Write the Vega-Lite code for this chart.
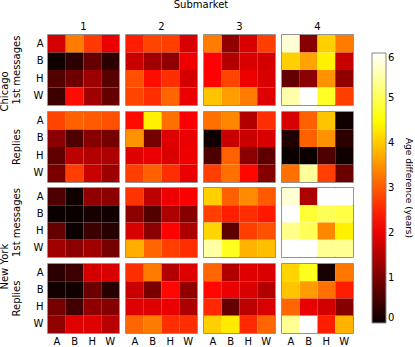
{
"$schema":"https://vega.github.io/schema/vega-lite/v6.json",
"padding":{"left":0,"top":0,"right":0,"bottom":0},
"data":{"values":[
{"city":"Chicago","msg":"1st messages","sub":1,"row":"A","col":"A","v":1.8},{"city":"Chicago","msg":"1st messages","sub":1,"row":"A","col":"B","v":3.3},{"city":"Chicago","msg":"1st messages","sub":1,"row":"A","col":"H","v":2.7},{"city":"Chicago","msg":"1st messages","sub":1,"row":"A","col":"W","v":2.0},
{"city":"Chicago","msg":"1st messages","sub":1,"row":"B","col":"A","v":0.05},{"city":"Chicago","msg":"1st messages","sub":1,"row":"B","col":"B","v":0.3},{"city":"Chicago","msg":"1st messages","sub":1,"row":"B","col":"H","v":0.8},{"city":"Chicago","msg":"1st messages","sub":1,"row":"B","col":"W","v":0.3},
{"city":"Chicago","msg":"1st messages","sub":1,"row":"H","col":"A","v":0.65},{"city":"Chicago","msg":"1st messages","sub":1,"row":"H","col":"B","v":0.9},{"city":"Chicago","msg":"1st messages","sub":1,"row":"H","col":"H","v":1.3},{"city":"Chicago","msg":"1st messages","sub":1,"row":"H","col":"W","v":0.7},
{"city":"Chicago","msg":"1st messages","sub":1,"row":"W","col":"A","v":0.45},{"city":"Chicago","msg":"1st messages","sub":1,"row":"W","col":"B","v":2.3},{"city":"Chicago","msg":"1st messages","sub":1,"row":"W","col":"H","v":1.35},{"city":"Chicago","msg":"1st messages","sub":1,"row":"W","col":"W","v":0.8},
{"city":"Chicago","msg":"1st messages","sub":2,"row":"A","col":"A","v":2.45},{"city":"Chicago","msg":"1st messages","sub":2,"row":"A","col":"B","v":2.8},{"city":"Chicago","msg":"1st messages","sub":2,"row":"A","col":"H","v":2.75},{"city":"Chicago","msg":"1st messages","sub":2,"row":"A","col":"W","v":1.85},
{"city":"Chicago","msg":"1st messages","sub":2,"row":"B","col":"A","v":1.7},{"city":"Chicago","msg":"1st messages","sub":2,"row":"B","col":"B","v":1.35},{"city":"Chicago","msg":"1st messages","sub":2,"row":"B","col":"H","v":1.2},{"city":"Chicago","msg":"1st messages","sub":2,"row":"B","col":"W","v":2.05},
{"city":"Chicago","msg":"1st messages","sub":2,"row":"H","col":"A","v":2.9},{"city":"Chicago","msg":"1st messages","sub":2,"row":"H","col":"B","v":2.3},{"city":"Chicago","msg":"1st messages","sub":2,"row":"H","col":"H","v":2.6},{"city":"Chicago","msg":"1st messages","sub":2,"row":"H","col":"W","v":1.8},
{"city":"Chicago","msg":"1st messages","sub":2,"row":"W","col":"A","v":2.8},{"city":"Chicago","msg":"1st messages","sub":2,"row":"W","col":"B","v":2.6},{"city":"Chicago","msg":"1st messages","sub":2,"row":"W","col":"H","v":3.1},{"city":"Chicago","msg":"1st messages","sub":2,"row":"W","col":"W","v":2.0},
{"city":"Chicago","msg":"1st messages","sub":3,"row":"A","col":"A","v":3.3},{"city":"Chicago","msg":"1st messages","sub":3,"row":"A","col":"B","v":1.2},{"city":"Chicago","msg":"1st messages","sub":3,"row":"A","col":"H","v":1.85},{"city":"Chicago","msg":"1st messages","sub":3,"row":"A","col":"W","v":2.75},
{"city":"Chicago","msg":"1st messages","sub":3,"row":"B","col":"A","v":2.2},{"city":"Chicago","msg":"1st messages","sub":3,"row":"B","col":"B","v":1.5},{"city":"Chicago","msg":"1st messages","sub":3,"row":"B","col":"H","v":1.85},{"city":"Chicago","msg":"1st messages","sub":3,"row":"B","col":"W","v":1.8},
{"city":"Chicago","msg":"1st messages","sub":3,"row":"H","col":"A","v":2.2},{"city":"Chicago","msg":"1st messages","sub":3,"row":"H","col":"B","v":2.8},{"city":"Chicago","msg":"1st messages","sub":3,"row":"H","col":"H","v":2.05},{"city":"Chicago","msg":"1st messages","sub":3,"row":"H","col":"W","v":1.85},
{"city":"Chicago","msg":"1st messages","sub":3,"row":"W","col":"A","v":3.95},{"city":"Chicago","msg":"1st messages","sub":3,"row":"W","col":"B","v":3.6},{"city":"Chicago","msg":"1st messages","sub":3,"row":"W","col":"H","v":3.3},{"city":"Chicago","msg":"1st messages","sub":3,"row":"W","col":"W","v":1.9},
{"city":"Chicago","msg":"1st messages","sub":4,"row":"A","col":"A","v":5.75},{"city":"Chicago","msg":"1st messages","sub":4,"row":"A","col":"B","v":1.1},{"city":"Chicago","msg":"1st messages","sub":4,"row":"A","col":"H","v":4.05},{"city":"Chicago","msg":"1st messages","sub":4,"row":"A","col":"W","v":3.3},
{"city":"Chicago","msg":"1st messages","sub":4,"row":"B","col":"A","v":4.05},{"city":"Chicago","msg":"1st messages","sub":4,"row":"B","col":"B","v":3.65},{"city":"Chicago","msg":"1st messages","sub":4,"row":"B","col":"H","v":4.35},{"city":"Chicago","msg":"1st messages","sub":4,"row":"B","col":"W","v":1.7},
{"city":"Chicago","msg":"1st messages","sub":4,"row":"H","col":"A","v":0.8},{"city":"Chicago","msg":"1st messages","sub":4,"row":"H","col":"B","v":1.15},{"city":"Chicago","msg":"1st messages","sub":4,"row":"H","col":"H","v":3.5},{"city":"Chicago","msg":"1st messages","sub":4,"row":"H","col":"W","v":1.2},
{"city":"Chicago","msg":"1st messages","sub":4,"row":"W","col":"A","v":5.5},{"city":"Chicago","msg":"1st messages","sub":4,"row":"W","col":"B","v":6.0},{"city":"Chicago","msg":"1st messages","sub":4,"row":"W","col":"H","v":4.7},{"city":"Chicago","msg":"1st messages","sub":4,"row":"W","col":"W","v":2.75},
{"city":"Chicago","msg":"Replies","sub":1,"row":"A","col":"A","v":2.8},{"city":"Chicago","msg":"Replies","sub":1,"row":"A","col":"B","v":3.05},{"city":"Chicago","msg":"Replies","sub":1,"row":"A","col":"H","v":3.0},{"city":"Chicago","msg":"Replies","sub":1,"row":"A","col":"W","v":2.9},
{"city":"Chicago","msg":"Replies","sub":1,"row":"B","col":"A","v":1.15},{"city":"Chicago","msg":"Replies","sub":1,"row":"B","col":"B","v":0.6},{"city":"Chicago","msg":"Replies","sub":1,"row":"B","col":"H","v":1.1},{"city":"Chicago","msg":"Replies","sub":1,"row":"B","col":"W","v":0.95},
{"city":"Chicago","msg":"Replies","sub":1,"row":"H","col":"A","v":0.75},{"city":"Chicago","msg":"Replies","sub":1,"row":"H","col":"B","v":1.6},{"city":"Chicago","msg":"Replies","sub":1,"row":"H","col":"H","v":1.5},{"city":"Chicago","msg":"Replies","sub":1,"row":"H","col":"W","v":1.45},
{"city":"Chicago","msg":"Replies","sub":1,"row":"W","col":"A","v":1.0},{"city":"Chicago","msg":"Replies","sub":1,"row":"W","col":"B","v":2.75},{"city":"Chicago","msg":"Replies","sub":1,"row":"W","col":"H","v":1.7},{"city":"Chicago","msg":"Replies","sub":1,"row":"W","col":"W","v":1.3},
{"city":"Chicago","msg":"Replies","sub":2,"row":"A","col":"A","v":2.3},{"city":"Chicago","msg":"Replies","sub":2,"row":"A","col":"B","v":4.35},{"city":"Chicago","msg":"Replies","sub":2,"row":"A","col":"H","v":3.2},{"city":"Chicago","msg":"Replies","sub":2,"row":"A","col":"W","v":2.15},
{"city":"Chicago","msg":"Replies","sub":2,"row":"B","col":"A","v":3.5},{"city":"Chicago","msg":"Replies","sub":2,"row":"B","col":"B","v":0.95},{"city":"Chicago","msg":"Replies","sub":2,"row":"B","col":"H","v":1.9},{"city":"Chicago","msg":"Replies","sub":2,"row":"B","col":"W","v":2.0},
{"city":"Chicago","msg":"Replies","sub":2,"row":"H","col":"A","v":1.9},{"city":"Chicago","msg":"Replies","sub":2,"row":"H","col":"B","v":2.0},{"city":"Chicago","msg":"Replies","sub":2,"row":"H","col":"H","v":1.85},{"city":"Chicago","msg":"Replies","sub":2,"row":"H","col":"W","v":2.05},
{"city":"Chicago","msg":"Replies","sub":2,"row":"W","col":"A","v":2.75},{"city":"Chicago","msg":"Replies","sub":2,"row":"W","col":"B","v":3.05},{"city":"Chicago","msg":"Replies","sub":2,"row":"W","col":"H","v":2.6},{"city":"Chicago","msg":"Replies","sub":2,"row":"W","col":"W","v":2.0},
{"city":"Chicago","msg":"Replies","sub":3,"row":"A","col":"A","v":3.2},{"city":"Chicago","msg":"Replies","sub":3,"row":"A","col":"B","v":3.4},{"city":"Chicago","msg":"Replies","sub":3,"row":"A","col":"H","v":1.5},{"city":"Chicago","msg":"Replies","sub":3,"row":"A","col":"W","v":2.6},
{"city":"Chicago","msg":"Replies","sub":3,"row":"B","col":"A","v":0.05},{"city":"Chicago","msg":"Replies","sub":3,"row":"B","col":"B","v":1.7},{"city":"Chicago","msg":"Replies","sub":3,"row":"B","col":"H","v":1.7},{"city":"Chicago","msg":"Replies","sub":3,"row":"B","col":"W","v":1.85},
{"city":"Chicago","msg":"Replies","sub":3,"row":"H","col":"A","v":0.6},{"city":"Chicago","msg":"Replies","sub":3,"row":"H","col":"B","v":3.05},{"city":"Chicago","msg":"Replies","sub":3,"row":"H","col":"H","v":1.15},{"city":"Chicago","msg":"Replies","sub":3,"row":"H","col":"W","v":0.75},
{"city":"Chicago","msg":"Replies","sub":3,"row":"W","col":"A","v":2.75},{"city":"Chicago","msg":"Replies","sub":3,"row":"W","col":"B","v":3.2},{"city":"Chicago","msg":"Replies","sub":3,"row":"W","col":"H","v":2.25},{"city":"Chicago","msg":"Replies","sub":3,"row":"W","col":"W","v":1.1},
{"city":"Chicago","msg":"Replies","sub":4,"row":"A","col":"A","v":1.85},{"city":"Chicago","msg":"Replies","sub":4,"row":"A","col":"B","v":3.05},{"city":"Chicago","msg":"Replies","sub":4,"row":"A","col":"H","v":3.95},{"city":"Chicago","msg":"Replies","sub":4,"row":"A","col":"W","v":0.05},
{"city":"Chicago","msg":"Replies","sub":4,"row":"B","col":"A","v":0.2},{"city":"Chicago","msg":"Replies","sub":4,"row":"B","col":"B","v":3.05},{"city":"Chicago","msg":"Replies","sub":4,"row":"B","col":"H","v":3.5},{"city":"Chicago","msg":"Replies","sub":4,"row":"B","col":"W","v":0.3},
{"city":"Chicago","msg":"Replies","sub":4,"row":"H","col":"A","v":0.0},{"city":"Chicago","msg":"Replies","sub":4,"row":"H","col":"B","v":0.0},{"city":"Chicago","msg":"Replies","sub":4,"row":"H","col":"H","v":0.6},{"city":"Chicago","msg":"Replies","sub":4,"row":"H","col":"W","v":0.05},
{"city":"Chicago","msg":"Replies","sub":4,"row":"W","col":"A","v":3.2},{"city":"Chicago","msg":"Replies","sub":4,"row":"W","col":"B","v":5.4},{"city":"Chicago","msg":"Replies","sub":4,"row":"W","col":"H","v":2.75},{"city":"Chicago","msg":"Replies","sub":4,"row":"W","col":"W","v":0.85},
{"city":"New York","msg":"1st messages","sub":1,"row":"A","col":"A","v":0.6},{"city":"New York","msg":"1st messages","sub":1,"row":"A","col":"B","v":0.05},{"city":"New York","msg":"1st messages","sub":1,"row":"A","col":"H","v":1.2},{"city":"New York","msg":"1st messages","sub":1,"row":"A","col":"W","v":1.15},
{"city":"New York","msg":"1st messages","sub":1,"row":"B","col":"A","v":0.0},{"city":"New York","msg":"1st messages","sub":1,"row":"B","col":"B","v":0.0},{"city":"New York","msg":"1st messages","sub":1,"row":"B","col":"H","v":0.1},{"city":"New York","msg":"1st messages","sub":1,"row":"B","col":"W","v":0.05},
{"city":"New York","msg":"1st messages","sub":1,"row":"H","col":"A","v":0.8},{"city":"New York","msg":"1st messages","sub":1,"row":"H","col":"B","v":0.02},{"city":"New York","msg":"1st messages","sub":1,"row":"H","col":"H","v":0.45},{"city":"New York","msg":"1st messages","sub":1,"row":"H","col":"W","v":0.25},
{"city":"New York","msg":"1st messages","sub":1,"row":"W","col":"A","v":1.35},{"city":"New York","msg":"1st messages","sub":1,"row":"W","col":"B","v":1.15},{"city":"New York","msg":"1st messages","sub":1,"row":"W","col":"H","v":1.35},{"city":"New York","msg":"1st messages","sub":1,"row":"W","col":"W","v":0.95},
{"city":"New York","msg":"1st messages","sub":2,"row":"A","col":"A","v":2.65},{"city":"New York","msg":"1st messages","sub":2,"row":"A","col":"B","v":1.6},{"city":"New York","msg":"1st messages","sub":2,"row":"A","col":"H","v":2.05},{"city":"New York","msg":"1st messages","sub":2,"row":"A","col":"W","v":2.15},
{"city":"New York","msg":"1st messages","sub":2,"row":"B","col":"A","v":1.15},{"city":"New York","msg":"1st messages","sub":2,"row":"B","col":"B","v":0.65},{"city":"New York","msg":"1st messages","sub":2,"row":"B","col":"H","v":1.45},{"city":"New York","msg":"1st messages","sub":2,"row":"B","col":"W","v":1.1},
{"city":"New York","msg":"1st messages","sub":2,"row":"H","col":"A","v":1.85},{"city":"New York","msg":"1st messages","sub":2,"row":"H","col":"B","v":1.15},{"city":"New York","msg":"1st messages","sub":2,"row":"H","col":"H","v":2.2},{"city":"New York","msg":"1st messages","sub":2,"row":"H","col":"W","v":1.45},
{"city":"New York","msg":"1st messages","sub":2,"row":"W","col":"A","v":3.75},{"city":"New York","msg":"1st messages","sub":2,"row":"W","col":"B","v":3.1},{"city":"New York","msg":"1st messages","sub":2,"row":"W","col":"H","v":2.75},{"city":"New York","msg":"1st messages","sub":2,"row":"W","col":"W","v":2.6},
{"city":"New York","msg":"1st messages","sub":3,"row":"A","col":"A","v":4.05},{"city":"New York","msg":"1st messages","sub":3,"row":"A","col":"B","v":3.05},{"city":"New York","msg":"1st messages","sub":3,"row":"A","col":"H","v":3.45},{"city":"New York","msg":"1st messages","sub":3,"row":"A","col":"W","v":3.0},
{"city":"New York","msg":"1st messages","sub":3,"row":"B","col":"A","v":2.75},{"city":"New York","msg":"1st messages","sub":3,"row":"B","col":"B","v":2.45},{"city":"New York","msg":"1st messages","sub":3,"row":"B","col":"H","v":2.6},{"city":"New York","msg":"1st messages","sub":3,"row":"B","col":"W","v":2.4},
{"city":"New York","msg":"1st messages","sub":3,"row":"H","col":"A","v":4.1},{"city":"New York","msg":"1st messages","sub":3,"row":"H","col":"B","v":0.75},{"city":"New York","msg":"1st messages","sub":3,"row":"H","col":"H","v":2.75},{"city":"New York","msg":"1st messages","sub":3,"row":"H","col":"W","v":2.9},
{"city":"New York","msg":"1st messages","sub":3,"row":"W","col":"A","v":5.45},{"city":"New York","msg":"1st messages","sub":3,"row":"W","col":"B","v":4.65},{"city":"New York","msg":"1st messages","sub":3,"row":"W","col":"H","v":3.8},{"city":"New York","msg":"1st messages","sub":3,"row":"W","col":"W","v":3.9},
{"city":"New York","msg":"1st messages","sub":4,"row":"A","col":"A","v":5.75},{"city":"New York","msg":"1st messages","sub":4,"row":"A","col":"B","v":1.45},{"city":"New York","msg":"1st messages","sub":4,"row":"A","col":"H","v":6.0},{"city":"New York","msg":"1st messages","sub":4,"row":"A","col":"W","v":6.0},
{"city":"New York","msg":"1st messages","sub":4,"row":"B","col":"A","v":6.0},{"city":"New York","msg":"1st messages","sub":4,"row":"B","col":"B","v":4.8},{"city":"New York","msg":"1st messages","sub":4,"row":"B","col":"H","v":5.0},{"city":"New York","msg":"1st messages","sub":4,"row":"B","col":"W","v":4.9},
{"city":"New York","msg":"1st messages","sub":4,"row":"H","col":"A","v":5.3},{"city":"New York","msg":"1st messages","sub":4,"row":"H","col":"B","v":5.0},{"city":"New York","msg":"1st messages","sub":4,"row":"H","col":"H","v":3.4},{"city":"New York","msg":"1st messages","sub":4,"row":"H","col":"W","v":4.35},
{"city":"New York","msg":"1st messages","sub":4,"row":"W","col":"A","v":6.0},{"city":"New York","msg":"1st messages","sub":4,"row":"W","col":"B","v":6.0},{"city":"New York","msg":"1st messages","sub":4,"row":"W","col":"H","v":5.35},{"city":"New York","msg":"1st messages","sub":4,"row":"W","col":"W","v":5.35},
{"city":"New York","msg":"Replies","sub":1,"row":"A","col":"A","v":0.3},{"city":"New York","msg":"Replies","sub":1,"row":"A","col":"B","v":0.45},{"city":"New York","msg":"Replies","sub":1,"row":"A","col":"H","v":1.8},{"city":"New York","msg":"Replies","sub":1,"row":"A","col":"W","v":1.85},
{"city":"New York","msg":"Replies","sub":1,"row":"B","col":"A","v":0.05},{"city":"New York","msg":"Replies","sub":1,"row":"B","col":"B","v":0.05},{"city":"New York","msg":"Replies","sub":1,"row":"B","col":"H","v":0.85},{"city":"New York","msg":"Replies","sub":1,"row":"B","col":"W","v":0.25},
{"city":"New York","msg":"Replies","sub":1,"row":"H","col":"A","v":0.95},{"city":"New York","msg":"Replies","sub":1,"row":"H","col":"B","v":0.5},{"city":"New York","msg":"Replies","sub":1,"row":"H","col":"H","v":1.2},{"city":"New York","msg":"Replies","sub":1,"row":"H","col":"W","v":1.1},
{"city":"New York","msg":"Replies","sub":1,"row":"W","col":"A","v":1.2},{"city":"New York","msg":"Replies","sub":1,"row":"W","col":"B","v":1.9},{"city":"New York","msg":"Replies","sub":1,"row":"W","col":"H","v":1.9},{"city":"New York","msg":"Replies","sub":1,"row":"W","col":"W","v":1.55},
{"city":"New York","msg":"Replies","sub":2,"row":"A","col":"A","v":2.6},{"city":"New York","msg":"Replies","sub":2,"row":"A","col":"B","v":3.3},{"city":"New York","msg":"Replies","sub":2,"row":"A","col":"H","v":1.5},{"city":"New York","msg":"Replies","sub":2,"row":"A","col":"W","v":1.9},
{"city":"New York","msg":"Replies","sub":2,"row":"B","col":"A","v":1.7},{"city":"New York","msg":"Replies","sub":2,"row":"B","col":"B","v":1.0},{"city":"New York","msg":"Replies","sub":2,"row":"B","col":"H","v":2.25},{"city":"New York","msg":"Replies","sub":2,"row":"B","col":"W","v":1.2},
{"city":"New York","msg":"Replies","sub":2,"row":"H","col":"A","v":1.9},{"city":"New York","msg":"Replies","sub":2,"row":"H","col":"B","v":1.9},{"city":"New York","msg":"Replies","sub":2,"row":"H","col":"H","v":2.0},{"city":"New York","msg":"Replies","sub":2,"row":"H","col":"W","v":1.45},
{"city":"New York","msg":"Replies","sub":2,"row":"W","col":"A","v":3.1},{"city":"New York","msg":"Replies","sub":2,"row":"W","col":"B","v":3.3},{"city":"New York","msg":"Replies","sub":2,"row":"W","col":"H","v":2.6},{"city":"New York","msg":"Replies","sub":2,"row":"W","col":"W","v":2.6},
{"city":"New York","msg":"Replies","sub":3,"row":"A","col":"A","v":3.1},{"city":"New York","msg":"Replies","sub":3,"row":"A","col":"B","v":1.5},{"city":"New York","msg":"Replies","sub":3,"row":"A","col":"H","v":1.9},{"city":"New York","msg":"Replies","sub":3,"row":"A","col":"W","v":1.85},
{"city":"New York","msg":"Replies","sub":3,"row":"B","col":"A","v":2.25},{"city":"New York","msg":"Replies","sub":3,"row":"B","col":"B","v":2.0},{"city":"New York","msg":"Replies","sub":3,"row":"B","col":"H","v":1.85},{"city":"New York","msg":"Replies","sub":3,"row":"B","col":"W","v":1.5},
{"city":"New York","msg":"Replies","sub":3,"row":"H","col":"A","v":2.55},{"city":"New York","msg":"Replies","sub":3,"row":"H","col":"B","v":0.8},{"city":"New York","msg":"Replies","sub":3,"row":"H","col":"H","v":1.6},{"city":"New York","msg":"Replies","sub":3,"row":"H","col":"W","v":1.85},
{"city":"New York","msg":"Replies","sub":3,"row":"W","col":"A","v":4.05},{"city":"New York","msg":"Replies","sub":3,"row":"W","col":"B","v":4.3},{"city":"New York","msg":"Replies","sub":3,"row":"W","col":"H","v":2.55},{"city":"New York","msg":"Replies","sub":3,"row":"W","col":"W","v":3.1},
{"city":"New York","msg":"Replies","sub":4,"row":"A","col":"A","v":4.1},{"city":"New York","msg":"Replies","sub":4,"row":"A","col":"B","v":4.65},{"city":"New York","msg":"Replies","sub":4,"row":"A","col":"H","v":0.1},{"city":"New York","msg":"Replies","sub":4,"row":"A","col":"W","v":3.25},
{"city":"New York","msg":"Replies","sub":4,"row":"B","col":"A","v":3.95},{"city":"New York","msg":"Replies","sub":4,"row":"B","col":"B","v":3.6},{"city":"New York","msg":"Replies","sub":4,"row":"B","col":"H","v":3.2},{"city":"New York","msg":"Replies","sub":4,"row":"B","col":"W","v":2.45},
{"city":"New York","msg":"Replies","sub":4,"row":"H","col":"A","v":3.1},{"city":"New York","msg":"Replies","sub":4,"row":"H","col":"B","v":2.0},{"city":"New York","msg":"Replies","sub":4,"row":"H","col":"H","v":1.8},{"city":"New York","msg":"Replies","sub":4,"row":"H","col":"W","v":1.1},
{"city":"New York","msg":"Replies","sub":4,"row":"W","col":"A","v":5.35},{"city":"New York","msg":"Replies","sub":4,"row":"W","col":"B","v":6.0},{"city":"New York","msg":"Replies","sub":4,"row":"W","col":"H","v":2.45},{"city":"New York","msg":"Replies","sub":4,"row":"W","col":"W","v":3.8}
]},
"spacing":4,
"vconcat":[
{"transform":[{"filter":"datum.city == 'Chicago'"}],
 "title":{"text":"Chicago","orient":"left","anchor":"middle","fontSize":10,"fontWeight":"normal","font":"DejaVu Sans","offset":2},
 "facet":{
  "row":{"field":"msg","type":"nominal","header":{"title":null,"labelAngle":-90,"labelOrient":"left","labelFontSize":10,"labelFont":"DejaVu Sans","labelPadding":6}},
  "column":{"field":"sub","type":"ordinal","header":{"title":"Submarket","titleFontSize":10,"titleFont":"DejaVu Sans","titleFontWeight":"normal","titlePadding":2,"labelFontSize":10,"labelFont":"DejaVu Sans","labelPadding":2}}
 },
 "spacing":{"row":5,"column":5},
 "spec":{"width":71,"height":70,"mark":{"type":"rect","strokeWidth":0},
  "encoding":{
   "x":{"field":"col","type":"nominal","sort":["A","B","H","W"],"axis":null},
   "y":{"field":"row","type":"nominal","sort":["A","B","H","W"],"axis":{"title":null,"ticks":false,"domain":false,"labelAngle":0,"labelPadding":4,"labelFontSize":10,"labelFont":"DejaVu Sans"}},
   "color":{"field":"v","type":"quantitative","scale":{"type":"linear","domain":[0,2.19,4.48,6],"range":["#0b0000","#ff0000","#ffff00","#ffffff"],"interpolate":"rgb","nice":false,"zero":false},
    "legend":{"title":"Age difference (years)","values":[0,1,2,3,4,5,6]}}
  }}
},
{"transform":[{"filter":"datum.city == 'New York'"}],
 "title":{"text":"New York","orient":"left","anchor":"middle","fontSize":10,"fontWeight":"normal","font":"DejaVu Sans","offset":2},
 "facet":{
  "row":{"field":"msg","type":"nominal","header":{"title":null,"labelAngle":-90,"labelOrient":"left","labelFontSize":10,"labelFont":"DejaVu Sans","labelPadding":6}},
  "column":{"field":"sub","type":"ordinal","header":null}
 },
 "spacing":{"row":5,"column":5},
 "spec":{"width":71,"height":69,"mark":{"type":"rect","strokeWidth":0},
  "encoding":{
   "x":{"field":"col","type":"nominal","sort":["A","B","H","W"],"axis":{"title":null,"ticks":false,"domain":false,"labelAngle":0,"labelPadding":2,"labelBaseline":"top","labelFontSize":10,"labelFont":"DejaVu Sans"}},
   "y":{"field":"row","type":"nominal","sort":["A","B","H","W"],"axis":{"title":null,"ticks":false,"domain":false,"labelAngle":0,"labelPadding":4,"labelFontSize":10,"labelFont":"DejaVu Sans"}},
   "color":{"field":"v","type":"quantitative","scale":{"type":"linear","domain":[0,2.19,4.48,6],"range":["#0b0000","#ff0000","#ffff00","#ffffff"],"interpolate":"rgb","nice":false,"zero":false},
    "legend":{"title":"Age difference (years)","values":[0,1,2,3,4,5,6]}}
  }}
}
],
"config":{
 "font":"DejaVu Sans",
 "view":{"stroke":"#707070","strokeWidth":1.5},
 "axis":{"labelColor":"#000","grid":false},
 "legend":{"orient":"none","legendX":324,"legendY":18,"gradientLength":270,"gradientThickness":14,"gradientStrokeColor":"#888","gradientStrokeWidth":1,"titleOrient":"right","titleAngle":270,"titleFontSize":9,"titleFontWeight":"normal","titleColor":"#000","labelFontSize":10,"labelColor":"#000","padding":0,"titleAnchor":"middle","titlePadding":10}
}
}
